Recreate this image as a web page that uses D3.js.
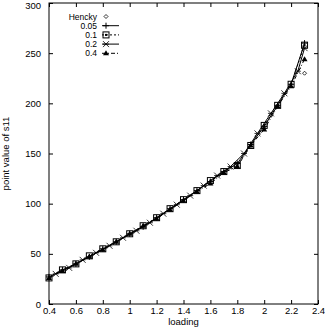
<!DOCTYPE html>
<html>
<head>
<meta charset="utf-8">
<script src="https://cdn.jsdelivr.net/npm/d3@7"></script>
<style>
  html, body { margin: 0; padding: 0; background: #fff; }
  svg text { font-family: "Liberation Sans", Arial, sans-serif; font-size: 9.5px; fill: #000; }
</style>
</head>
<body>
<svg id="chart" width="325" height="327"></svg>
<script>
// Load steps and point values of s11 for each mesh size
const loadA = [0.4, 0.5, 0.6, 0.7, 0.8, 0.9, 1.0, 1.1, 1.2, 1.3, 1.4, 1.5, 1.6, 1.7, 1.8, 1.9, 2.0, 2.1, 2.2, 2.3];
const s005 = [27, 34, 40, 47, 55, 62, 70, 77, 86, 95, 104, 113, 122, 132, 140, 159, 177, 198, 219, 260];
const s01  = [26, 34, 40, 48, 55, 62, 70, 78, 86, 95, 104, 113, 123, 132, 138, 158, 178, 198, 219, 258];
const s04  = [26, 33, 40, 47, 54, 62, 70, 78, 85, 94, 103, 112, 120, 131, 137, 158, 174, 197, 217, 244];
const loadB = [0.45, 0.55, 0.65, 0.75, 0.85, 0.95, 1.05, 1.15, 1.25, 1.35, 1.45, 1.55, 1.65, 1.75, 1.85, 1.95, 2.05, 2.15, 2.25, 2.3];
const s02  = [30, 36, 44, 51, 58, 66, 73, 81, 90, 99, 108, 118, 128, 137, 150, 170, 190, 210, 232, 255];
const hencky = [[2.3, 230]];

const xTicks = [0.4, 0.6, 0.8, 1, 1.2, 1.4, 1.6, 1.8, 2, 2.2, 2.4];
const yTicks = [0, 50, 100, 150, 200, 250, 300];

const L = 49, R = 318, T = 3, B = 304;
const x = d3.scaleLinear().domain([0.4, 2.4]).range([L, R]);
const y = d3.scaleLinear().domain([0, 300]).range([B, T]);

const svg = d3.select("#chart");

// frame
svg.append("rect").attr("x", L).attr("y", T).attr("width", R - L).attr("height", B - T)
  .attr("fill", "none").attr("stroke", "#000").attr("stroke-width", 1);

// inward ticks on all four sides
const tk = 4;
const fmtX = d => String(d);
svg.append("g").attr("transform", `translate(0,${B})`)
  .call(d3.axisBottom(x).tickValues(xTicks).tickSizeInner(-tk).tickSizeOuter(0).tickPadding(3).tickFormat(fmtX))
  .call(g => g.select(".domain").remove());
svg.append("g").attr("transform", `translate(0,${T})`)
  .call(d3.axisTop(x).tickValues(xTicks).tickSizeInner(-tk).tickSizeOuter(0).tickFormat(""))
  .call(g => g.select(".domain").remove());
svg.append("g").attr("transform", `translate(${L},0)`)
  .call(d3.axisLeft(y).tickValues(yTicks).tickSizeInner(-tk).tickSizeOuter(0).tickPadding(8))
  .call(g => g.select(".domain").remove())
  // keep the top label inside the canvas
  .call(g => g.selectAll(".tick text").filter(d => d === 300).attr("dy", "0.62em"));
svg.append("g").attr("transform", `translate(${R},0)`)
  .call(d3.axisRight(y).tickValues(yTicks).tickSizeInner(-tk).tickSizeOuter(0).tickFormat(""))
  .call(g => g.select(".domain").remove());
svg.selectAll(".tick text").style("font-family", "Liberation Sans, Arial, sans-serif").style("font-size", "9.5px");

// axis titles
svg.append("text").attr("x", (L + R) / 2).attr("y", 325).attr("text-anchor", "middle").text("loading");
svg.append("text").attr("transform", `translate(9,${(T + B) / 2}) rotate(-90)`)
  .attr("text-anchor", "middle").text("point value of s11");

// marker shapes
function marker(g, kind, cx, cy) {
  const s = 3;
  if (kind === "plus") {
    g.append("path").attr("d", `M${cx - s},${cy}H${cx + s}M${cx},${cy - s}V${cy + s}`).attr("stroke", "#000").attr("fill", "none");
  } else if (kind === "box") {
    g.append("rect").attr("x", cx - s).attr("y", cy - s).attr("width", 2 * s).attr("height", 2 * s).attr("stroke", "#000").attr("fill", "none");
    g.append("rect").attr("x", cx - 1).attr("y", cy - 1).attr("width", 2).attr("height", 2).attr("fill", "#000");
  } else if (kind === "star") {
    g.append("path").attr("d", `M${cx - s},${cy - s}L${cx + s},${cy + s}M${cx - s},${cy + s}L${cx + s},${cy - s}M${cx - s},${cy}H${cx + s}`).attr("stroke", "#000").attr("fill", "none").attr("stroke-width", 0.8);
  } else if (kind === "tri") {
    g.append("path").attr("d", `M${cx},${cy - s}L${cx + s},${cy + s - 1}L${cx - s},${cy + s - 1}Z`).attr("fill", "#000");
  } else if (kind === "diamond") {
    g.append("path").attr("d", `M${cx},${cy - 2}L${cx + 2},${cy}L${cx},${cy + 2}L${cx - 2},${cy}Z`).attr("stroke", "#000").attr("fill", "none").attr("stroke-width", 0.8);
  }
}

const series = [
  { name: "0.05", xs: loadA, ys: s005, kind: "plus", dash: null },
  { name: "0.1", xs: loadA, ys: s01, kind: "box", dash: "2,2" },
  { name: "0.2", xs: loadB, ys: s02, kind: "star", dash: null },
  { name: "0.4", xs: loadA, ys: s04, kind: "tri", dash: "4,2,1,2" }
];

const line = d3.line().x(d => x(d[0])).y(d => y(d[1]));
const plot = svg.append("g");
series.forEach(s => {
  const pts = s.xs.map((v, i) => [v, s.ys[i]]);
  plot.append("path").datum(pts).attr("d", line).attr("fill", "none").attr("stroke", "#000")
    .attr("stroke-width", 1).attr("stroke-dasharray", s.dash);
  pts.forEach(p => marker(plot, s.kind, x(p[0]), y(p[1])));
});
hencky.forEach(p => marker(plot, "diamond", x(p[0]), y(p[1])));

// legend
const leg = svg.append("g");
const rows = [{ name: "Hencky", kind: "diamond", dash: null, noLine: true }].concat(series);
rows.forEach((r, i) => {
  const ry = 16.5 + i * 9.2;
  leg.append("text").attr("x", 97).attr("y", ry + 3).attr("text-anchor", "end")
    .style("font-size", "8.5px").text(r.name);
  if (!r.noLine) {
    leg.append("line").attr("x1", 102).attr("x2", 119).attr("y1", ry).attr("y2", ry)
      .attr("stroke", "#000").attr("stroke-dasharray", r.dash);
  }
  marker(leg, r.kind, 106, ry);
});
</script>
</body>
</html>
